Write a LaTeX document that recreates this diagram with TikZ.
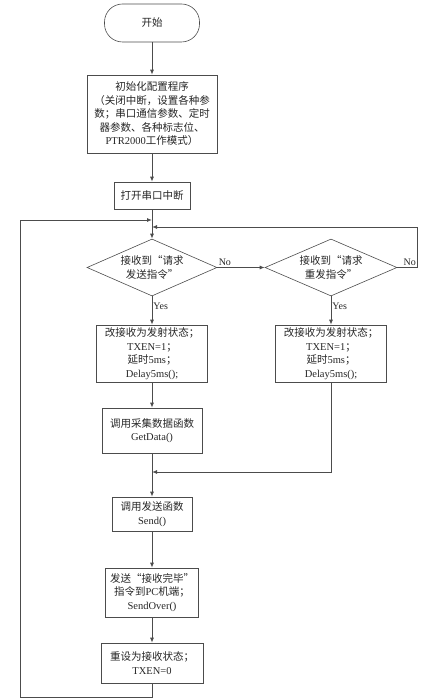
\documentclass[tikz,border=0pt]{standalone}
\usepackage{fontspec}
\setmainfont{Liberation Serif}
\newfontfamily\cnfont{Noto Sans CJK SC}
\newcommand{\lat}[1]{{\rmfamily #1}}
\usetikzlibrary{arrows.meta,shapes.geometric}

\begin{document}
\begin{tikzpicture}[
  x=1pt, y=-1pt,
  >={Latex[length=5pt,width=4pt]},
  every node/.style={font=\cnfont\fontsize{10.5}{13.5}\selectfont, text=black!85},
  box/.style={draw=black!70, line width=0.6pt, align=center, inner sep=1pt},
  term/.style={box, rounded corners=18pt},
  test/.style={box, diamond, aspect=2.3, inner sep=0pt},
  flow/.style={->, draw=black!70, line width=0.9pt},
  lbl/.style={font=\rmfamily\fontsize{10}{12}\selectfont, inner sep=1pt},
]
  \useasboundingbox (0,0) rectangle (425,700);

  \node[term, minimum width=95pt, minimum height=38pt] (start) at (152,23) {开始};
  \node[box, minimum width=130pt, minimum height=78pt] (init) at (152,114)
    {初始化配置程序\\（关闭中断，设置各种参\\数；串口通信参数、定时\\器参数、各种标志位、\\\lat{PTR2000}工作模式）};
  \node[box, minimum width=76pt, minimum height=27pt] (open) at (152,195.5) {打开串口中断};

  \node[test, minimum width=130pt, minimum height=57pt] (dec1) at (152,267.5)
    {接收到“请求\\发送指令”};
  \node[test, minimum width=132pt, minimum height=57pt] (dec2) at (331,267.5)
    {接收到“请求\\重发指令”};

  \node[box, minimum width=111pt, minimum height=57pt] (tx1) at (152,353.5)
    {改接收为发射状态；\\\lat{TXEN=1}；\\延时\lat{5ms}；\\\lat{Delay5ms();}};
  \node[box, minimum width=111pt, minimum height=57pt] (tx2) at (331,353.5)
    {改接收为发射状态；\\\lat{TXEN=1}；\\延时\lat{5ms}；\\\lat{Delay5ms();}};

  \node[box, minimum width=100pt, minimum height=45pt] (get) at (152,430.5)
    {调用采集数据函数\\\lat{GetData()}};
  \node[box, minimum width=80pt, minimum height=34pt] (send) at (152,514)
    {调用发送函数\\\lat{Send()}};
  \node[box, minimum width=93pt, minimum height=49pt] (over) at (152,592.5)
    {发送“接收完毕”\\指令到\lat{PC}机端；\\\lat{SendOver()}};
  \node[box, minimum width=102pt, minimum height=40pt] (reset) at (152,663)
    {重设为接收状态；\\\lat{TXEN=0}};

  % joins on the main line
  \coordinate (in1) at (152,220);
  \coordinate (in2) at (152,227);
  \coordinate (in3) at (152,472);
  \coordinate (corner) at (20,697);

  \draw[flow] (start) -- (init);
  \draw[flow] (init) -- (open);
  \draw[flow] (open) -- (dec1);
  \draw[flow] (dec1) -- node[lbl, right, pos=0.35] {Yes} (tx1);
  \draw[flow] (dec1) -- node[lbl, above right, pos=0] {No} (dec2);
  \draw[flow] (dec2) -- node[lbl, right, pos=0.35] {Yes} (tx2);
  \draw[flow] (dec2.east) -- ++(20,0) node[lbl, above left] {No} |- (in2);
  \draw[flow] (tx1) -- (get);
  \draw[flow] (get) -- (send);
  \draw[flow] (tx2) |- (in3);
  \draw[flow] (send) -- (over);
  \draw[flow] (over) -- (reset);

  % back to the first test
  \draw[flow] (reset) |- (corner) |- (in1);
\end{tikzpicture}
\end{document}
